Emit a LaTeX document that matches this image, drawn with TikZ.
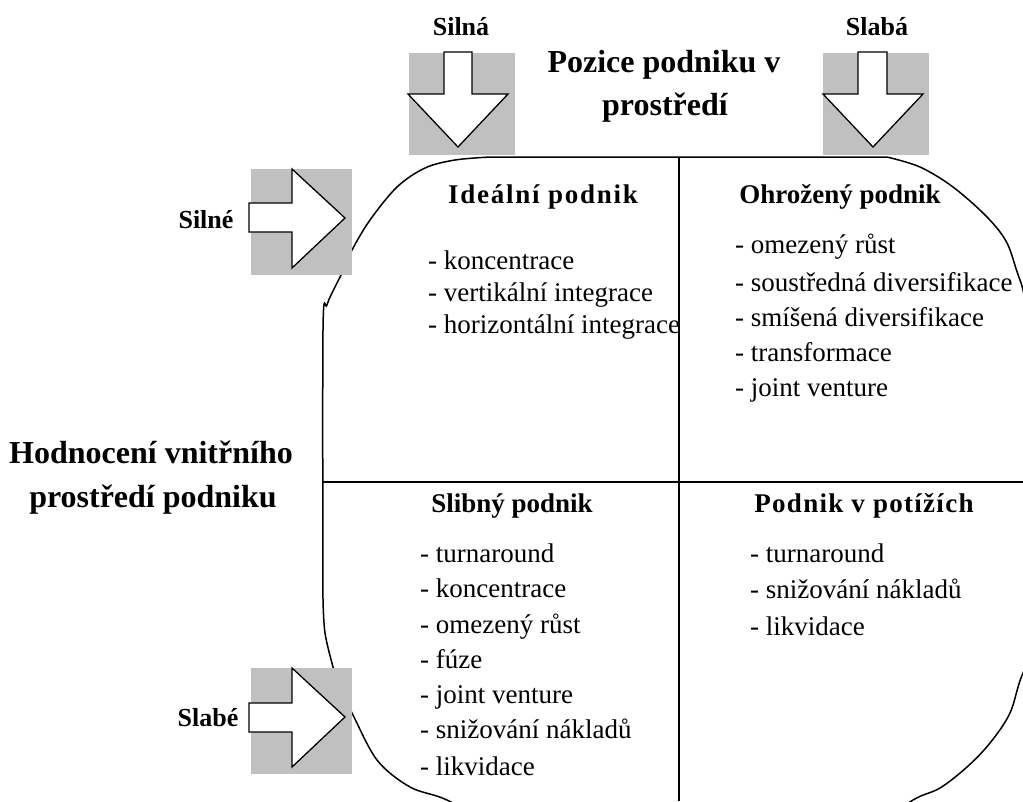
\documentclass[tikz,border=0pt]{standalone}
\usepackage{fontspec}
\setmainfont{Liberation Serif}
\definecolor{boxgray}{HTML}{C0C0C0}
\begin{document}
\begin{tikzpicture}[x=1pt,y=-1pt,
  sidelabel/.style={inner sep=0pt, anchor=base, font=\fontsize{26}{30}\selectfont\bfseries},
  title/.style={inner sep=0pt, anchor=base, font=\fontsize{32}{38}\selectfont\bfseries},
  head/.style={inner sep=0pt, anchor=base, font=\fontsize{27}{32}\selectfont\bfseries},
  item/.style={inner sep=0pt, anchor=base west, font=\fontsize{27}{32}\selectfont},
  shade/.style={fill=boxgray, draw=none},
  blockarrow/.style={draw=black, fill=white, line width=1.3pt, line join=miter},
  frame/.style={line width=1.5pt},
  divider/.style={line width=2pt}
]
\useasboundingbox (0,0) rectangle (1023,801);

% rounded field outline, running past the page edges
\begin{scope}
\clip (0,0) rectangle (1023,801);
\draw[frame]
  plot[smooth, tension=0.55] coordinates {(323,600) (323,330) (327,305) (335,287) (343,271) (352,250) (370,220) (397,187) (425,168) (455,160) (490,157)}
  -- (887,157)
  -- plot[smooth, tension=0.55] coordinates {(887,157) (920,167) (953,187) (987,217) (1007,243) (1020,280) (1045,340) (1150,420)}
  -- (1150,560)
  -- plot[smooth, tension=0.55] coordinates {(1150,560) (1050,625) (1023,673) (1010,713) (990,743) (967,767) (940,788) (913,800) (870,830)}
  -- (500,830)
  -- plot[smooth, tension=0.55] coordinates {(500,830) (447,800) (410,787) (377,760) (352,713) (340,690) (333,667) (325,633) (323,600)};
\end{scope}

% quadrant dividers
\draw[divider] (679,157) -- (679,801);
\draw[divider] (323,482) -- (1023,482);

% grey backings of the block arrows
\fill[shade] (409,53) rectangle (515,155);
\fill[shade] (823,53) rectangle (929,155);
\fill[shade] (251,169) rectangle (352,275);
\fill[shade] (251,668) rectangle (352,774);

% block arrows
\draw[blockarrow] (444,52) -- (472,52) -- (472,94) -- (508,94) -- (458,147) -- (408,94) -- (444,94) -- cycle;
\draw[blockarrow] (858,52) -- (887,52) -- (887,94) -- (923,94) -- (873,147) -- (823,94) -- (858,94) -- cycle;
\draw[blockarrow] (249,203) -- (292,203) -- (292,169) -- (345,218) -- (292,268) -- (292,232) -- (249,232) -- cycle;
\draw[blockarrow] (249,703) -- (292,703) -- (292,668) -- (345,717) -- (292,767) -- (292,732) -- (249,732) -- cycle;

% arrow labels
\node[sidelabel] (silna) at (461,35) {Silná};
\node[sidelabel] (slaba) at (877,35) {Slabá};
\node[sidelabel] (silne) at (206,228) {Silné};
\node[sidelabel] (slabe) at (208,726) {Slabé};

% axis titles
\node[title] (pozice1) at (664,72) {Pozice podniku v};
\node[title] (pozice2) at (665,115) {prostředí};
\node[title] (hodnoceni1) at (151,463) {Hodnocení vnitřního};
\node[title] (hodnoceni2) at (153,507) {prostředí podniku};

% quadrant headings
\node[head] (idealni) at (543,203) {\addfontfeature{LetterSpace=6.5}Ideální podnik};
\node[head] (ohrozeny) at (840,203) {Ohrožený podnik};
\node[head] (slibny) at (512,512) {Slibný podnik};
\node[head] (potize) at (864,512) {\addfontfeature{LetterSpace=4.8}Podnik v potížích};

% strategies: ideal firm
\node[item] (i1) at (428,269) {- koncentrace};
\node[item] (i2) at (428,301) {- vertikální integrace};
\node[item] (i3) at (428,333) {- horizontální integrace};

% strategies: threatened firm
\node[item] (o1) at (735,253) {- omezený růst};
\node[item] (o2) at (735,291) {- soustředná diversifikace};
\node[item] (o3) at (735,326) {- smíšená diversifikace};
\node[item] (o4) at (735,361) {- transformace};
\node[item] (o5) at (735,396) {- joint venture};

% strategies: promising firm
\node[item] (s1) at (420,562) {- turnaround};
\node[item] (s2) at (420,597) {- koncentrace};
\node[item] (s3) at (420,633) {- omezený růst};
\node[item] (s4) at (420,668) {- fúze};
\node[item] (s5) at (420,703) {- joint venture};
\node[item] (s6) at (420,738) {- snižování nákladů};
\node[item] (s7) at (420,775) {- likvidace};

% strategies: firm in trouble
\node[item] (p1) at (750,562) {- turnaround};
\node[item] (p2) at (750,598) {- snižování nákladů};
\node[item] (p3) at (750,635) {- likvidace};
\end{tikzpicture}
\end{document}
